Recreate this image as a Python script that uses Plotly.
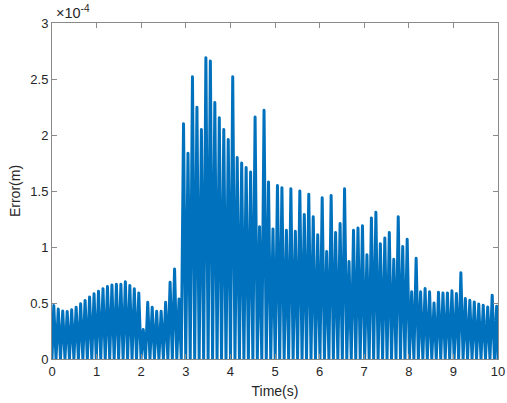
import plotly.graph_objects as go

# Peak values of the tracking error in units of 1e-4 m, one per oscillation cycle
peaks_0_2 = [0.478, 0.446, 0.428, 0.425, 0.440, 0.463, 0.493, 0.523, 0.553, 0.582,
             0.606, 0.627, 0.648, 0.660, 0.668, 0.668, 0.689, 0.657, 0.627, 0.590]
peaks_2_4 = [0.263, 0.507, 0.462, 0.426, 0.426, 0.507, 0.685, 0.803, 0.536, 2.100,
             1.837, 2.520, 2.248, 2.050, 2.690, 2.660, 2.290, 2.155, 2.050, 1.960]
peaks_4_6 = [2.520, 1.800, 1.750, 1.710, 1.670, 2.160, 1.180, 2.220, 1.580, 1.160,
             1.550, 1.530, 1.150, 1.520, 1.140, 1.500, 1.290, 1.470, 1.270, 1.110]
peaks_6_8 = [1.440, 0.960, 1.460, 1.130, 1.210, 1.520, 0.870, 1.150, 1.170, 1.190,
             0.930, 1.260, 1.310, 1.030, 1.080, 1.130, 0.890, 1.270, 1.005, 1.070]
peaks_8_10 = [0.600, 0.900, 0.600, 0.630, 0.600, 0.500, 0.595, 0.590, 0.590, 0.610,
              0.585, 0.770, 0.540, 0.525, 0.510, 0.490, 0.480, 0.465, 0.570, 0.470]
peak_values = peaks_0_2 + peaks_2_4 + peaks_4_6 + peaks_6_8 + peaks_8_10

first_peak_time = 0.04   # s
last_peak_time = 9.97    # s
trough_value = 0.0       # error returns to zero between peaks
t_start, t_end = 0.0, 10.0

x_ticks = [0, 1, 2, 3, 4, 5, 6, 7, 8, 9, 10]
y_ticks = [0, 0.5, 1, 1.5, 2, 2.5, 3]
y_tick_labels = ["0", "0.5", "1", "1.5", "2", "2.5", "3"]
scale = 1e-4

n = len(peak_values)
step = (last_peak_time - first_peak_time) / (n - 1)
peak_times = [first_peak_time + i * step for i in range(n)]

t = [t_start]
y = [trough_value]
for i, (pt, pv) in enumerate(zip(peak_times, peak_values)):
    t.append(pt)
    y.append(pv * scale)
    if i < n - 1:
        t.append(pt + step / 2)
        y.append(trough_value)
t.append(t_end)
y.append(trough_value)

axis_color = "#8a8a8a"
text_color = "#262626"
font_family = "Liberation Sans, Arial, sans-serif"

fig = go.Figure()
fig.add_trace(go.Scatter(x=t, y=y, mode="lines",
                         line=dict(color="#0072BD", width=3),
                         hoverinfo="skip", showlegend=False))

fig.update_layout(
    width=507, height=403,
    margin=dict(l=52, r=9, t=23, b=43.5, pad=0),
    paper_bgcolor="white", plot_bgcolor="white",
    font=dict(family=font_family, size=13, color=text_color),
    showlegend=False,
)
fig.update_xaxes(
    range=[0, 10], tickvals=x_ticks, ticktext=[str(v) for v in x_ticks],
    showline=True, linecolor=axis_color, linewidth=1, mirror="ticks",
    ticks="inside", ticklen=5, tickcolor=axis_color, showgrid=False, zeroline=False,
    automargin=False,
    title=dict(text="Time(s)", font=dict(size=14, color=text_color), standoff=8),
    tickfont=dict(size=13, color=text_color),
)
fig.update_yaxes(
    range=[0, 3 * scale], tickvals=[v * scale for v in y_ticks], ticktext=y_tick_labels,
    showline=True, linecolor=axis_color, linewidth=1, mirror="ticks",
    ticks="inside", ticklen=5, tickcolor=axis_color, showgrid=False, zeroline=False,
    automargin=False,
    title=dict(text="Error(m)", font=dict(size=14, color=text_color), standoff=6),
    tickfont=dict(size=13, color=text_color),
)
fig.add_annotation(xref="paper", yref="paper", x=0, y=1, xanchor="left", yanchor="bottom",
                   xshift=2, yshift=0, showarrow=False,
                   text="×10<sup>-4</sup>", font=dict(size=14.5, color=text_color))

post = (
    "document.body.style.margin='0';document.body.style.overflow='hidden';"
    "document.querySelectorAll('.scatterlayer path.js-line').forEach(function(p){"
    "p.style.strokeLinejoin='round';p.style.strokeLinecap='round';});"
)
fig.write_html("out.html", config={"displayModeBar": False}, post_script=post)
